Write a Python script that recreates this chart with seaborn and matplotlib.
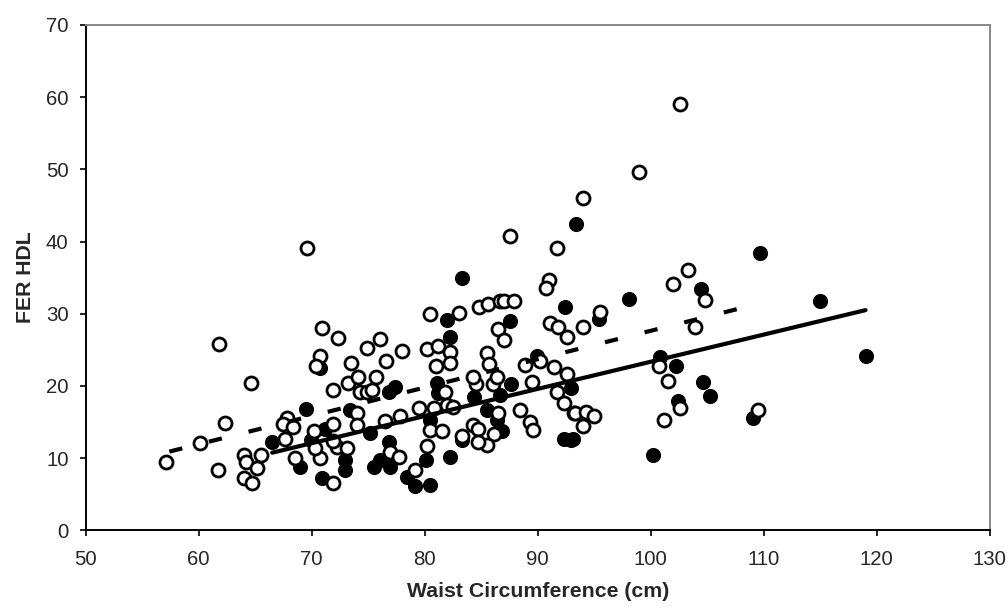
import numpy as np
import pandas as pd
import matplotlib
matplotlib.use("Agg")
import matplotlib.pyplot as plt
import seaborn as sns

# open circles (dashed trend)
open_waist = [69.6, 70.9, 72.3, 61.8, 70.7, 70.4, 64.6, 71.9, 62.3, 67.8, 67.5, 68.3, 60.1, 67.6,
              57.1, 61.7, 64.0, 65.5, 64.2, 65.2, 64.0, 64.7, 68.5, 71.9, 70.2, 71.9, 70.7, 70.3,
              87.5, 91.7, 91.0, 90.7, 84.8, 85.6, 86.7, 87.0, 87.9, 80.5, 83.0, 86.5, 87.0,
              91.1, 91.8, 92.6, 76.0, 74.9, 78.0, 80.2, 81.2, 82.2, 82.2, 81.0, 73.5, 76.6,
              85.5, 85.7, 88.9, 90.2, 91.4, 92.6, 91.7, 92.3, 93.2, 88.4, 89.3, 89.6, 89.5,
              73.2, 74.1, 75.7, 74.3, 74.9, 75.3, 81.8, 84.5, 84.3, 86.0, 86.4, 74.0, 74.0,
              76.5, 77.8, 79.5, 80.8, 82.0, 82.5, 80.5, 81.5, 86.5, 84.3, 84.7, 86.1, 85.5,
              84.7, 83.3, 76.9, 77.7, 80.2, 79.1, 72.2, 73.1, 71.9,
              102.6, 99.0, 94.0, 103.3, 102.0, 104.8, 95.5, 94.0, 103.9, 100.7, 101.5, 102.6,
              101.2, 109.5, 93.3, 94.3, 95.0, 94.0]
open_fer = [39.1, 28.0, 26.6, 25.8, 24.1, 22.7, 20.4, 19.4, 14.8, 15.6, 14.7, 14.3, 12.1, 12.7,
            9.4, 8.3, 10.5, 10.5, 9.4, 8.6, 7.2, 6.6, 10.0, 6.5, 13.7, 14.7, 10.0, 11.4,
            40.8, 39.1, 34.7, 33.5, 30.9, 31.4, 31.8, 31.8, 31.8, 30.0, 30.1, 27.9, 26.4,
            28.7, 28.2, 26.8, 26.5, 25.2, 24.9, 25.1, 25.5, 24.7, 23.2, 22.7, 23.2, 23.5,
            24.5, 23.1, 22.9, 23.4, 22.6, 21.7, 19.1, 17.6, 16.2, 16.7, 15.0, 13.9, 20.6,
            20.4, 21.2, 21.2, 19.2, 19.2, 19.4, 19.2, 20.3, 21.3, 20.3, 21.3, 16.2, 14.6,
            15.2, 15.9, 17.0, 17.0, 17.4, 17.1, 13.9, 13.7, 16.3, 14.6, 14.1, 13.4, 11.8,
            12.2, 13.1, 10.8, 10.1, 11.7, 8.4, 11.6, 11.4, 12.4,
            59.0, 49.7, 46.0, 36.0, 34.1, 31.9, 30.3, 28.2, 28.1, 22.7, 20.7, 16.9,
            15.3, 16.7, 16.3, 16.4, 15.9, 14.4]

# filled circles (solid trend)
filled_waist = [70.7, 69.5, 66.5, 69.0, 70.9, 71.2, 69.9,
                83.3, 92.4, 82.0, 87.5, 82.2, 89.9, 92.9, 92.3, 92.9, 76.8, 77.4, 81.2, 81.1,
                84.4, 87.6, 86.7, 73.4, 80.5, 85.5, 86.4, 86.8, 83.3, 75.2, 76.8, 76.0, 75.5,
                76.9, 80.1, 82.2, 78.4, 79.1, 80.5, 72.9, 72.9,
                93.4, 109.7, 104.4, 98.1, 115.0, 95.4, 119.0, 100.8, 102.2, 104.6, 105.2,
                102.4, 109.0, 100.2, 93.1]
filled_fer = [22.5, 16.8, 12.2, 8.8, 7.3, 14.1, 12.5,
              35.0, 31.0, 29.1, 29.0, 26.8, 24.1, 19.7, 12.7, 12.5, 19.2, 19.9, 19.0, 20.4,
              18.5, 20.3, 18.7, 16.7, 15.3, 16.7, 15.3, 13.7, 12.5, 13.5, 12.3, 9.8, 8.7,
              8.8, 9.8, 10.1, 7.4, 6.1, 6.3, 9.7, 8.3,
              42.4, 38.4, 33.4, 32.1, 31.8, 29.3, 24.1, 24.0, 22.7, 20.6, 18.6,
              17.9, 15.6, 10.4, 12.6]

# trend line end points
solid_x = [66.5, 119.0]
solid_y = [10.75, 30.5]
dashed_x = [57.4, 108.3]
dashed_y = [10.9, 30.9]

x_ticks = list(range(50, 131, 10))
y_ticks = list(range(0, 71, 10))

sns.set_theme(style="white")
plt.rcParams['font.family'] = ['Liberation Sans', 'DejaVu Sans']

fig = plt.figure(figsize=(10.08, 6.08), dpi=100)
ax = fig.add_axes([0.085, 0.1278, 0.897, 0.8311])

filled_df = pd.DataFrame({'waist': filled_waist, 'fer': filled_fer})
open_df = pd.DataFrame({'waist': open_waist, 'fer': open_fer})

sns.scatterplot(data=filled_df, x='waist', y='fer', ax=ax, s=88, color='black',
                edgecolor='black', linewidth=1.5, zorder=3)
sns.scatterplot(data=open_df, x='waist', y='fer', ax=ax, s=88, color='white',
                edgecolor='black', linewidth=2.0, zorder=4)

sns.lineplot(x=solid_x, y=solid_y, ax=ax, color='black', linewidth=3.0, zorder=5)
sns.lineplot(x=dashed_x, y=dashed_y, ax=ax, color='black', linewidth=3.0, zorder=5,
             dashes=False)
ax.lines[-1].set_dashes([3.2, 6.6])
ax.lines[-1].set_solid_capstyle('butt')

ax.set_xlim(50, 130)
ax.set_ylim(0, 70)
ax.set_xticks(x_ticks)
ax.set_yticks(y_ticks)
ax.tick_params(axis='both', which='major', labelsize=14.7, direction='out',
               length=4.3, width=1.2, color='black', bottom=True, left=True)
ax.tick_params(axis='x', pad=10)
ax.tick_params(axis='y', pad=8)

for side in ['left', 'bottom']:
    ax.spines[side].set_color('black')
    ax.spines[side].set_linewidth(1.4)
for side in ['top', 'right']:
    ax.spines[side].set_color('#888888')
    ax.spines[side].set_linewidth(1.4)

ax.set_xlabel('Waist Circumference (cm)', fontsize=15.3, fontweight='bold', labelpad=9)
ax.set_ylabel('FER HDL', fontsize=15.3, fontweight='bold', labelpad=8)

fig.savefig('out.png', dpi=100)
